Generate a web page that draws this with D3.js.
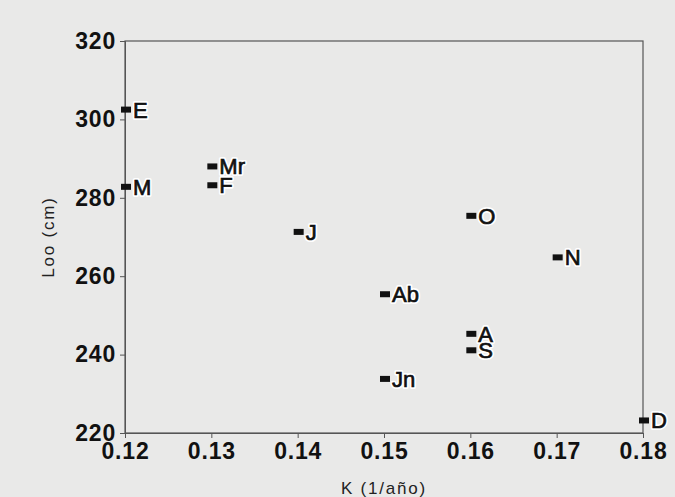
<!DOCTYPE html>
<html>
<head>
<meta charset="utf-8">
<script src="https://cdn.jsdelivr.net/npm/d3@7"></script>
<style>
  body { margin: 0; background: #e9e9e8; }
  svg { display: block; }
  .tick text { font-family: "Liberation Sans", Arial, sans-serif; font-weight: bold; fill: #111; letter-spacing: 0.8px; }
  .pt-halo { font-family: "Liberation Sans", Arial, sans-serif; fill: #fff;
             stroke: #fff; stroke-width: 4px; stroke-linejoin: round; }
  .pt-label { font-family: "Liberation Sans", Arial, sans-serif; fill: #111;
              stroke: #111; stroke-width: 0.7px; }
  .ax-title { font-family: "Liberation Sans", Arial, sans-serif; font-size: 17px; fill: #222; letter-spacing: 1.8px; }
</style>
</head>
<body>
<div id="chart"></div>
<script>
// month codes, K (1/año) and Loo (cm)
let months = ["E", "M", "Mr", "F", "J", "Ab", "Jn", "O", "A", "S", "N", "D"];
let kValues = [0.12, 0.12, 0.13, 0.13, 0.14, 0.15, 0.15, 0.16, 0.16, 0.16, 0.17, 0.18];
let looValues = [302.5, 282.8, 288, 283.2, 271.3, 255.4, 233.8, 275.4, 245.3, 241.1, 264.8, 223.2];

let xTicks = [0.12, 0.13, 0.14, 0.15, 0.16, 0.17, 0.18];
let yTicks = [220, 240, 260, 280, 300, 320];

let data = months.map(function(m, i) {
    return {label: m, k: kValues[i], loo: looValues[i]};
});

let margin = {top: 41, right: 32, bottom: 64, left: 125};
let width = 675 - margin.left - margin.right;
let height = 497 - margin.top - margin.bottom;

let svg = d3.select("#chart").append("svg")
    .attr("width", 675)
    .attr("height", 497)
    .append("g")
    .attr("transform", "translate(" + margin.left + "," + margin.top + ")");

let x = d3.scaleLinear().domain([0.12, 0.18]).range([0, width]);
let y = d3.scaleLinear().domain([220, 320]).range([height, 0]);

// frame
svg.append("rect")
    .attr("width", width)
    .attr("height", height)
    .attr("fill", "none")
    .attr("stroke", "#555")
    .attr("stroke-width", 1.2);

let xAxis = d3.axisBottom(x).tickValues(xTicks).tickSize(5).tickPadding(3)
    .tickFormat(d3.format(".2f"));
let yAxis = d3.axisLeft(y).tickValues(yTicks).tickSize(5).tickPadding(4);

let gx = svg.append("g")
    .attr("transform", "translate(0," + height + ")")
    .call(xAxis);
gx.select(".domain").attr("stroke", "#555");
gx.selectAll(".tick line").attr("stroke", "#555");
gx.selectAll(".tick text").style("font-size", "23px").attr("dy", "0.78em");

let gy = svg.append("g").call(yAxis);
gy.select(".domain").attr("stroke", "#555");
gy.selectAll(".tick line").attr("stroke", "#555");
gy.selectAll(".tick text").style("font-size", "23px");

// axis titles
svg.append("text")
    .attr("class", "ax-title")
    .attr("x", x(0.15))
    .attr("y", height + 61)
    .attr("text-anchor", "middle")
    .text("K (1/año)");

svg.append("text")
    .attr("class", "ax-title")
    .attr("transform", "translate(" + (-71) + "," + y(270) + ") rotate(-90)")
    .attr("text-anchor", "middle")
    .text("Loo (cm)");

// points
svg.selectAll(".pt")
    .data(data)
    .enter().append("rect")
    .attr("class", "pt")
    .attr("x", function(d) { return x(d.k) - 4; })
    .attr("y", function(d) { return y(d.loo) - 3; })
    .attr("width", 10)
    .attr("height", 6)
    .attr("fill", "#111");

// labels with white halo
["pt-halo", "pt-label"].forEach(function(cls) {
    svg.selectAll("." + cls)
        .data(data)
        .enter().append("text")
        .attr("class", cls)
        .attr("x", function(d) { return x(d.k) + 8; })
        .attr("y", function(d) { return y(d.loo); })
        .attr("dy", "0.36em")
        .style("font-size", "22px")
        .text(function(d) { return d.label; });
});
</script>
</body>
</html>
